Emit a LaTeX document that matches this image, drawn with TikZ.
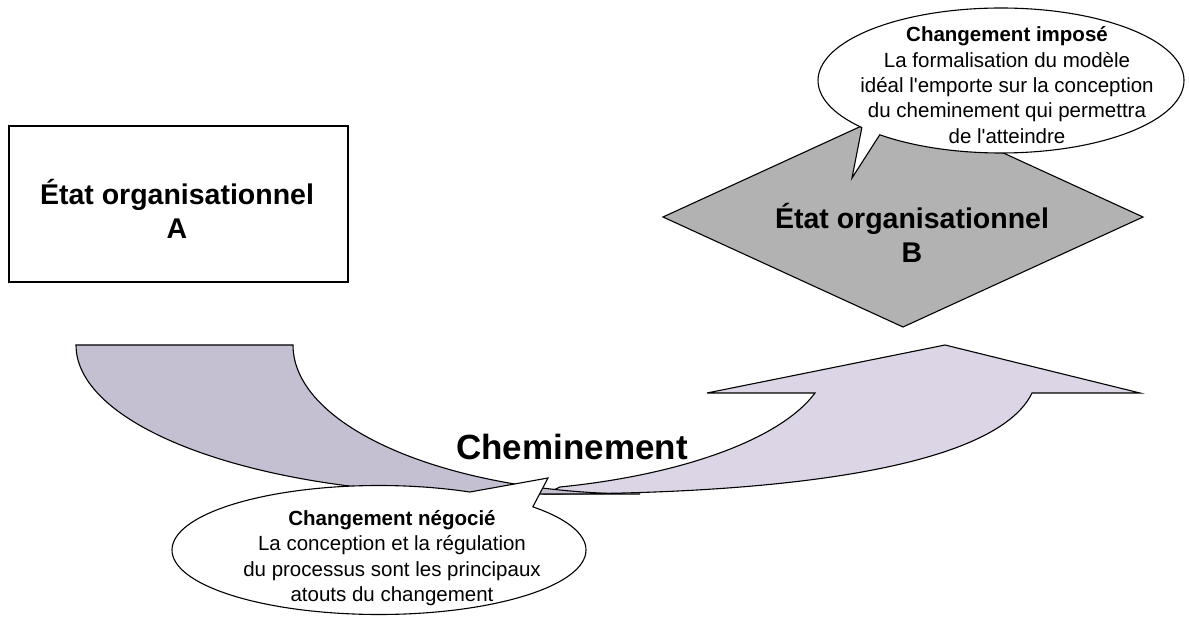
\documentclass[tikz,border=0pt]{standalone}
\usepackage{fontspec}
\usetikzlibrary{calc}
\setmainfont{Liberation Sans}
\definecolor{banddark}{RGB}{196,191,209}
\definecolor{bandlight}{RGB}{220,213,230}
\definecolor{stategray}{RGB}{178,178,178}
\begin{document}
\begin{tikzpicture}[x=1pt,y=-1pt,line join=miter,
  outline/.style={draw=black,line width=1.1pt},
  statetxt/.style={align=center,inner sep=0pt,font=\fontsize{28.5}{34}\selectfont\bfseries},
  calltxt/.style={align=center,inner sep=0pt,font=\fontsize{20.5}{25.3}\selectfont},
  pathtxt/.style={inner sep=0pt,anchor=base,font=\fontsize{35}{40}\selectfont\bfseries}]
\useasboundingbox (0,0) rectangle (1189,617);

% state A
\path[outline,fill=white] (9,126) rectangle (348,282);
\node[statetxt] (etatA) at (177,209) {État organisationnel\\A};

% state B (diamond)
\path[outline,fill=stategray] (663,217) -- (903,107) -- (1143,217) -- (903,327) -- cycle;
\node[statetxt] (etatB) at (912,233) {État organisationnel\\B};

% curved up arrow: front band with the arrow head
\path[outline,fill=bandlight] (545,494) .. controls (820,494) and (1000,460) .. (1032,393)
  -- (1140,393) -- (945,345) -- (707,393) -- (815,393)
  .. controls (780,440) and (680,475) .. (560,487) -- cycle;
% curved up arrow: back band
\path[outline,fill=banddark] (76,345) -- (293,345)
  .. controls (293,427.3) and (448.5,494) .. (640,494) -- (480,494)
  .. controls (257,494) and (76,427.3) .. (76,345) -- cycle;
\node[pathtxt] (chem) at (572,460) {Cheminement};

% callout: negotiated change
\coordinate (cnC) at (379,550);
\coordinate (cnTip) at (548,478);
\path[outline,fill=white] ($(cnC)+(-64:207 and 64.5)$) -- (cnTip) -- ($(cnC)+(-42:207 and 64.5)$)
  arc[start angle=-42,end angle=296,x radius=207,y radius=64.5] -- cycle;
\node[calltxt] (negocie) at (392,558) {\textbf{Changement négocié}\\La conception et la régulation\\du processus sont les principaux\\atouts du changement};

% callout: imposed change
\coordinate (ciC) at (1001,80.5);
\coordinate (ciTip) at (852,178);
\path[outline,fill=white] ($(ciC)+(139.5:183 and 72.5)$) -- (ciTip) -- ($(ciC)+(131.5:183 and 72.5)$)
  arc[start angle=131.5,end angle=-220.5,x radius=183,y radius=72.5] -- cycle;
\node[calltxt] (impose) at (1007,85) {\textbf{Changement imposé}\\La formalisation du modèle\\idéal l\textquotesingle emporte sur la conception\\du cheminement qui permettra\\de l\textquotesingle atteindre};
\end{tikzpicture}
\end{document}
